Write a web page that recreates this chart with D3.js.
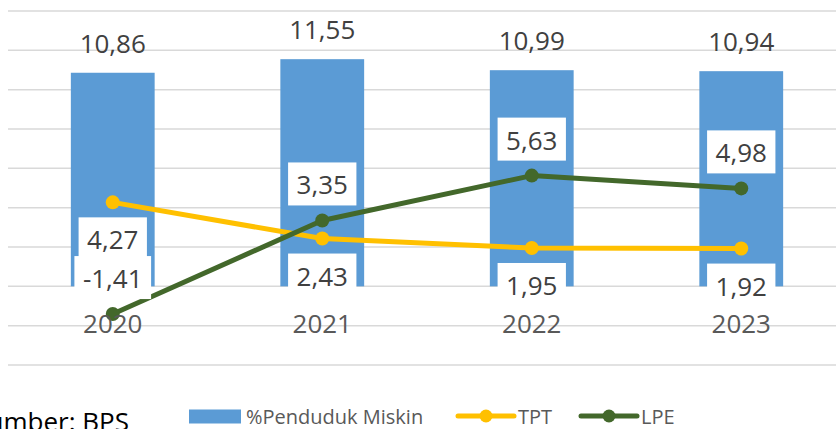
<!DOCTYPE html>
<meta charset="utf-8">
<html>
<body style="margin:0; background-color: white;">
<!-- Load d3.js -->
<script src="https://d3js.org/d3.v7.min.js"></script>

<!-- Create a div where the graph will take place -->
<div id="my_dataviz"></div>

<script>

    // data
    var years = ["2020", "2021", "2022", "2023"];
    var miskin = [10.86, 11.55, 10.99, 10.94];   // %Penduduk Miskin (bars)
    var tpt = [4.27, 2.43, 1.95, 1.92];          // TPT (yellow line)
    var lpe = [-1.41, 3.35, 5.63, 4.98];         // LPE (green line)
    var yTicks = [-4, -2, 0, 2, 4, 6, 8, 10, 12, 14];

    var width = 836, height = 429;
    var fontFam = "'Open Sans', 'DejaVu Sans', sans-serif";

    var svg = d3.select("#my_dataviz")
      .append("svg")
        .attr("width", width)
        .attr("height", height);

    // scales
    var x = d3.scaleBand()
      .domain(years)
      .range([8, 846])
      .paddingInner(0.6)
      .paddingOuter(0.3);

    var y = d3.scaleLinear()
      .domain([-4, 14])
      .range([365, 11]);

    // indonesian number format: comma decimal, plain hyphen minus
    var locale = d3.formatLocale({decimal: ",", thousands: ".", grouping: [3], currency: ["", ""], minus: "-"});
    var fmt = locale.format(".2f");
    var cx = function(i) { return x(years[i]) + x.bandwidth() / 2; };

    // gridlines
    svg.selectAll("grid")
      .data(yTicks)
      .enter()
      .append("line")
        .attr("x1", 8)
        .attr("x2", width)
        .attr("y1", function(d) { return y(d); })
        .attr("y2", function(d) { return y(d); })
        .attr("stroke", "#d9d9d9")
        .attr("stroke-width", 1.5);

    // bars
    svg.selectAll("bars")
      .data(miskin)
      .enter()
      .append("rect")
        .attr("x", function(d, i) { return x(years[i]); })
        .attr("y", function(d) { return y(d); })
        .attr("width", x.bandwidth())
        .attr("height", function(d) { return y(0) - y(d); })
        .attr("fill", "#5b9bd5");

    // bar labels
    svg.selectAll("barlabels")
      .data(miskin)
      .enter()
      .append("text")
        .attr("x", function(d, i) { return cx(i); })
        .attr("y", function(d) { return y(d) - 20; })
        .attr("text-anchor", "middle")
        .attr("font-family", fontFam)
        .attr("font-size", "26px")
        .attr("fill", "#404040")
        .text(function(d) { return fmt(d); });

    // lines + markers
    function drawLine(values, color) {
      var line = d3.line()
        .x(function(d, i) { return cx(i); })
        .y(function(d) { return y(d); });
      svg.append("path")
        .datum(values)
        .attr("d", line)
        .attr("fill", "none")
        .attr("stroke", color)
        .attr("stroke-width", 5)
        .attr("stroke-linejoin", "round");
      svg.selectAll(null)
        .data(values)
        .enter()
        .append("circle")
          .attr("cx", function(d, i) { return cx(i); })
          .attr("cy", function(d) { return y(d); })
          .attr("r", 7)
          .attr("fill", color);
    }
    drawLine(tpt, "#ffc000");
    drawLine(lpe, "#43682b");

    // labels with white boxes; below = true puts the box under the point
    function drawLabels(values, below) {
      values.forEach(function(v, i) {
        var g = svg.append("g");
        var boxTop = below ? y(v) + 15 : y(v) - 15 - 43;
        var rect = g.append("rect").attr("fill", "white");
        var t = g.append("text")
          .attr("x", cx(i))
          .attr("y", boxTop + 32)
          .attr("text-anchor", "middle")
          .attr("font-family", fontFam)
          .attr("font-size", "26px")
          .attr("fill", "#404040")
          .text(fmt(v));
        var w = t.node().getComputedTextLength() + 17;
        rect.attr("x", cx(i) - w / 2)
          .attr("y", boxTop)
          .attr("width", w)
          .attr("height", 43);
      });
    }
    drawLabels(tpt, true);
    drawLabels(lpe, false);

    // category labels
    svg.selectAll("cats")
      .data(years)
      .enter()
      .append("text")
        .attr("x", function(d, i) { return cx(i); })
        .attr("y", 333)
        .attr("text-anchor", "middle")
        .attr("font-family", fontFam)
        .attr("font-size", "26px")
        .attr("fill", "#595959")
        .text(function(d) { return d; });

    // legend
    var legY = 416;
    svg.append("rect")
      .attr("x", 189).attr("y", 409.5)
      .attr("width", 52).attr("height", 14)
      .attr("fill", "#5b9bd5");
    svg.append("text")
      .attr("x", 246).attr("y", legY + 7.5)
      .attr("font-family", fontFam).attr("font-size", "20px")
      .attr("fill", "#595959")
      .text("%Penduduk Miskin");

    var legLines = [
      {name: "TPT", color: "#ffc000", x0: 458},
      {name: "LPE", color: "#43682b", x0: 581}
    ];
    legLines.forEach(function(l) {
      svg.append("line")
        .attr("x1", l.x0).attr("x2", l.x0 + 56)
        .attr("y1", legY).attr("y2", legY)
        .attr("stroke", l.color).attr("stroke-width", 5)
        .attr("stroke-linecap", "round");
      svg.append("circle")
        .attr("cx", l.x0 + 28).attr("cy", legY)
        .attr("r", 6.5).attr("fill", l.color);
      svg.append("text")
        .attr("x", l.x0 + 60).attr("y", legY + 7.5)
        .attr("font-family", fontFam).attr("font-size", "20px")
        .attr("fill", "#595959")
        .text(l.name);
    });

    // source note, cut at the left and bottom edge like the original
    svg.append("text")
      .attr("x", 129).attr("y", 431)
      .attr("text-anchor", "end")
      .attr("font-family", fontFam).attr("font-size", "26px")
      .attr("fill", "#000")
      .text("Sumber: BPS");

</script>
</body>
</html>
